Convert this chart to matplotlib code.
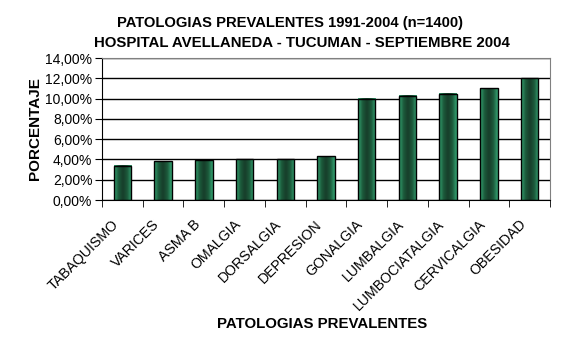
import matplotlib.pyplot as plt
import numpy as np
from matplotlib.colors import LinearSegmentedColormap
from matplotlib.ticker import FuncFormatter, FixedLocator
from matplotlib.transforms import ScaledTranslation

plt.rcParams['font.family'] = ['Liberation Sans', 'DejaVu Sans']

categorias = ['TABAQUISMO', 'VARICES', 'ASMA B', 'OMALGIA', 'DORSALGIA', 'DEPRESION',
              'GONALGIA', 'LUMBALGIA', 'LUMBOCIATALGIA', 'CERVICALGIA', 'OBESIDAD']
porcentajes = [3.4, 3.8, 3.9, 4.0, 4.0, 4.3, 10.0, 10.3, 10.5, 11.0, 12.0]

fig = plt.figure(figsize=(5.64, 3.43), dpi=100)
ax = fig.add_axes([102 / 564, 1 - 200 / 343, 448 / 564, 142 / 343])

x = np.arange(len(categorias))
ancho = 0.43
barras = ax.bar(x, porcentajes, width=ancho, color='none', edgecolor='black', linewidth=1, zorder=3)

# relleno degradado tipo Excel
cmap = LinearSegmentedColormap.from_list('verde', ['#34a574', '#1c5a3b', '#173d2a', '#1c5a3b', '#34a574'])
grad = np.linspace(0, 1, 64).reshape(1, -1)
for b in barras:
    x0, w, h = b.get_x(), b.get_width(), b.get_height()
    ax.imshow(grad, cmap=cmap, aspect='auto', extent=[x0, x0 + w, 0, h], zorder=2, interpolation='bicubic')

ax.set_xlim(-0.5, len(categorias) - 0.5)
ax.set_ylim(0, 14)
ax.set_yticks(np.arange(0, 15, 2))
ax.yaxis.set_major_formatter(FuncFormatter(lambda v, p: f'{v:.2f}%'.replace('.', ',')))
ax.grid(axis='y', color='black', linewidth=1, zorder=1)
ax.set_axisbelow(True)

ax.set_xticks(x)
ax.set_xticklabels(categorias, rotation=45, ha='right', rotation_mode='anchor', fontsize=10.2)
ax.tick_params(axis='x', length=0, pad=6)
desplaz = ScaledTranslation(-11 / 100, -9 / 100, fig.dpi_scale_trans)
for t in ax.get_xticklabels():
    t.set_transform(t.get_transform() + desplaz)
ax.xaxis.set_minor_locator(FixedLocator(np.arange(-0.5, len(categorias), 1)))
ax.tick_params(axis='x', which='minor', length=5, color='black', direction='out')
ax.tick_params(axis='y', labelsize=10, length=5, direction='out', pad=2)

ax.spines['top'].set_color('#808080')
ax.spines['right'].set_color('#808080')
ax.spines['left'].set_color('black')
ax.spines['bottom'].set_color('black')

ax.set_ylabel('PORCENTAJE', fontsize=11, fontweight='bold', labelpad=2)
ax.set_xlabel('PATOLOGIAS PREVALENTES', fontsize=10.8, fontweight='bold')
ax.xaxis.set_label_coords((322 - 102) / 448, -(324 - 200) / 142)
ax.xaxis.label.set_verticalalignment('center')

fig.text(290 / 564, 1 - 23 / 343, 'PATOLOGIAS PREVALENTES 1991-2004 (n=1400)', ha='center', va='center',
         fontsize=10.6, fontweight='bold')
fig.text(302 / 564, 1 - 43 / 343, 'HOSPITAL AVELLANEDA - TUCUMAN - SEPTIEMBRE 2004', ha='center', va='center',
         fontsize=10.8, fontweight='bold')

fig.savefig('out.png', dpi=100)
